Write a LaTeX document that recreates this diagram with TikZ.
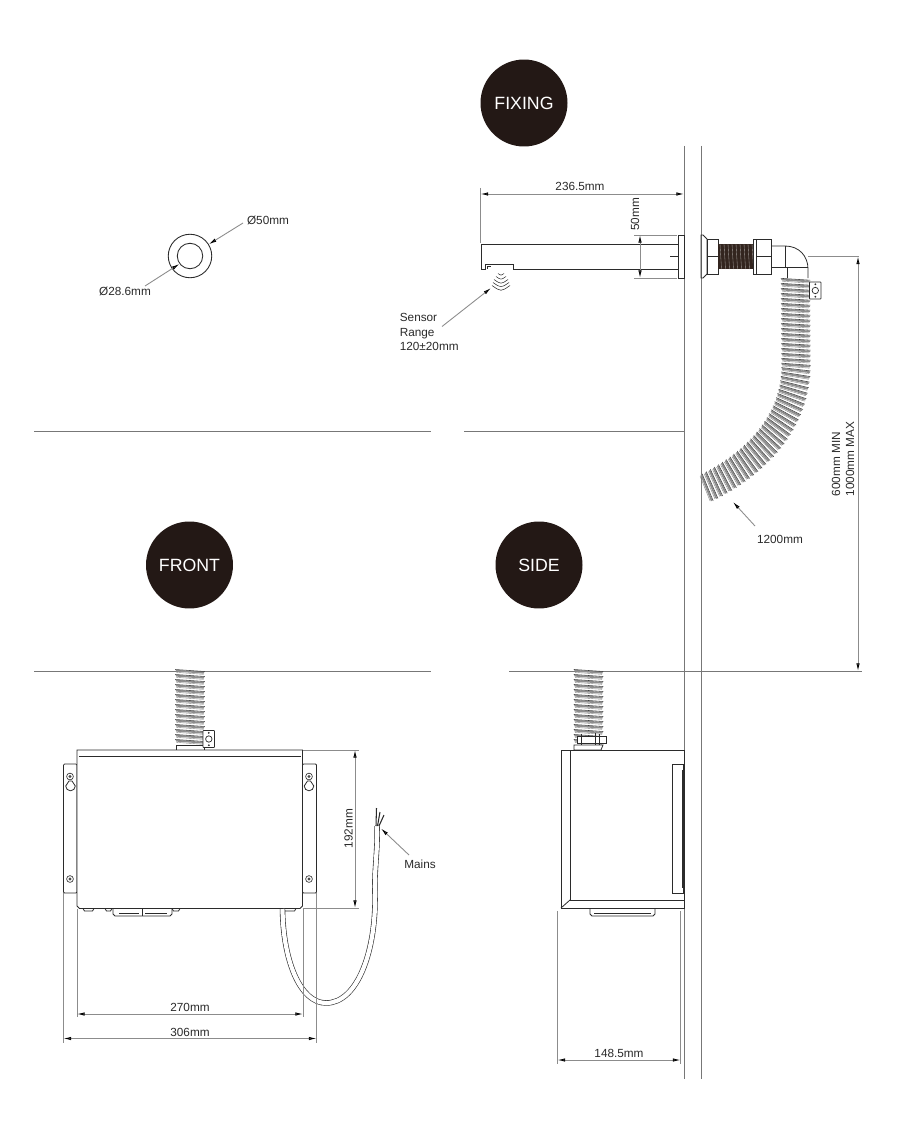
\documentclass[tikz,border=0pt]{standalone}
\usepackage{fontspec}
\setmainfont{Liberation Sans}
\usepackage{xcolor}
\usetikzlibrary{arrows.meta,decorations.markings}
\definecolor{inkdark}{HTML}{2B2B2B}
\definecolor{dimgrey}{HTML}{8C8C8C}
\definecolor{ribgrey}{HTML}{8E8E8E}
\definecolor{badgeblack}{HTML}{231815}
\definecolor{threadbrown}{HTML}{33251F}
\tikzset{
	part/.style={draw=inkdark,line width=0.45pt},
	dimline/.style={color=dimgrey,line width=0.5pt,{Latex[length=4.4pt,width=2pt,color=black]}-{Latex[length=4.4pt,width=2pt,color=black]}},
	leader/.style={color=dimgrey,line width=0.5pt,-{Latex[length=4.4pt,width=2pt,color=black]}},
	extline/.style={color=dimgrey,line width=0.5pt},
	wall/.style={color=dimgrey!85!black,line width=0.55pt},
	dimtext/.style={font=\fontsize{6.7}{8}\selectfont,text=inkdark,inner sep=0pt},
	badge/.style={circle,fill=badgeblack,minimum size=1.74cm,inner sep=0pt,text=white,font=\fontsize{10.1}{12}\selectfont},
	hose/.style={postaction={decorate},decoration={markings,
		mark=between positions 0.01 and 1 step 0.1cm with {
			\draw[ribgrey,line width=1pt,line cap=round] (-0.02cm,-0.27cm) -- (0.02cm,0.27cm);
			\draw[inkdark!90,line width=0.32pt,line cap=round] (-0.045cm,-0.29cm) -- (-0.005cm,0.29cm);
			\draw[inkdark!60,line width=0.22pt] (0.012cm,-0.27cm) -- (0.052cm,0.27cm);
		}}},
	screw/.pic={
		\draw[inkdark,line width=0.35pt] (0,0) circle[radius=3.4];
		\fill[inkdark!85] (0,0) circle[radius=1.7];
	},
	hoseclip/.pic={
		\draw[inkdark,line width=0.4pt,fill=white,rounded corners=0.4pt] (0,-8.5) rectangle (11.5,8.5);
		\draw[inkdark,line width=0.4pt] (5.8,0) circle[radius=3.2];
		\fill[inkdark] (5.8,-6.2) circle[radius=1] (5.8,6.2) circle[radius=1];
	}
}
\begin{document}
\begin{tikzpicture}[x=0.02cm,y=-0.02cm]
		\useasboundingbox[fill=white] (0,0) rectangle (900,1125);
		%
		% section badges
		\node[badge] (fixing) at (524,103) {FIXING};
		\node[badge] (front) at (189.5,565) {FRONT};
		\node[badge] (side) at (539,565) {SIDE};
		%
		% section rules and wall
		\coordinate (R1a) at (34,431.5);
		\coordinate (R1b) at (431,431.5);
		\coordinate (R1c) at (464,431.5);
		\coordinate (R1d) at (684,431.5);
		\coordinate (R2a) at (34,671);
		\coordinate (R2b) at (431,671);
		\coordinate (R2c) at (509,671);
		\coordinate (R2d) at (862,671);
		\coordinate (W1a) at (684,146);
		\coordinate (W1b) at (684,1079);
		\coordinate (W2a) at (701,146);
		\coordinate (W2b) at (701,1079);
		\path[wall]
		(R1a) edge (R1b)
		(R1c) edge (R1d)
		(R2a) edge (R2b)
		(R2c) edge (R2d)
		(W1a) edge (W1b)
		(W2a) edge (W2b);
		%
		% ring
		\node[draw=inkdark,line width=0.5pt,circle,minimum size=0.87cm,inner sep=0pt] (ringout) at (190,256) {};
		\node[draw=inkdark,line width=0.5pt,circle,minimum size=0.51cm,inner sep=0pt] (ringin) at (190,256) {};
		\node[dimtext] (d50) at (268,220.5) {Ø50mm};
		\node[dimtext] (d286) at (125,291.5) {Ø28.6mm};
		\coordinate (d50a) at (243,223);
		\coordinate (d286a) at (145,286);
		\path[leader]
		(d50a) edge (ringout.32)
		(d286a) edge (ringin.217);
		%
		% spout
		\draw[part] (678,244) -- (481,244) -- (481,269) -- (485,269) -- (485,264) -- (513,264) -- (513,269) -- (678,269);
		\draw[part] (487,269) -- (487,266) -- (491,266);
		\draw[part] (678,235) rectangle (684,278);
		\draw[part] (670,256.5) -- (678,256.5);
		\foreach \y/\w in {273.5/3,276.5/5,279.5/7,282.5/8,285.5/9}
			\draw[inkdark,line width=0.3pt] (501-\w,\y) .. controls (501,\y+0.7*\w) .. (501+\w,\y);
		\coordinate (S0) at (480.5,188);
		\coordinate (S1) at (480.5,243);
		\coordinate (D1a) at (480.5,194);
		\coordinate (D1b) at (684,194);
		\coordinate (D2a) at (640,235);
		\coordinate (D2b) at (640,278);
		\coordinate (E1a) at (634,235);
		\coordinate (E1b) at (677,235);
		\coordinate (E2a) at (634,278);
		\coordinate (E2b) at (677,278);
		\coordinate (sensa) at (442,326.5);
		\coordinate (senstip) at (491,288);
		\path[extline]
		(S0) edge (S1)
		(E1a) edge (E1b)
		(E2a) edge (E2b);
		\path[dimline]
		(D1a) edge (D1b)
		(D2a) edge (D2b);
		\path[leader] (sensa) edge (senstip);
		\node[dimtext] (d2365) at (580,186) {236.5mm};
		\node[dimtext,rotate=90] (d50v) at (635,214.5) {50mm};
		\node[dimtext,align=left,anchor=west,text width=1.5cm] (sensor) at (399.5,332) {Sensor\\Range\\120±20mm};
		%
		% through wall fitting
		\draw[part] (701,235) -- (703,235) -- (707,239) -- (707,274) -- (703,278) -- (701,278) -- cycle;
		\draw[part] (707,239) rectangle (718,274);
		\draw[part] (707,256.5) -- (718,256.5);
		\fill[threadbrown] (718,244) rectangle (753,269);
		\foreach \x in {720,724,...,752}
			\draw[white!55!threadbrown,line width=0.2pt] (\x,244) -- (\x+1.5,269);
		\draw[part] (753,239) rectangle (771,274);
		\draw[part] (756,239) -- (756,274);
		\draw[part] (756,256.5) -- (771,256.5);
		\draw[part] (771,246) -- (785,246) .. controls (799,246) and (808,256) .. (808,269) -- (808,278);
		\draw[part] (771,267) -- (787,267) -- (787,278);
		\draw[part] (785,246) -- (785,267);
		\draw[part] (787,267) -- (808,267);
		%
		% hose to the box
		\path[hose] (795.5,278) -- (796,365) .. controls (796,430) and (745,470) .. (702,490);
		\pic (clipA) at (809.5,290.5) {hoseclip};
		\coordinate (H0) at (808,256.5);
		\coordinate (H1) at (859,256.5);
		\coordinate (H2) at (858,256.5);
		\coordinate (H3) at (858,671);
		\coordinate (hosea) at (755,526);
		\coordinate (hosetip) at (733,502);
		\path[extline] (H0) edge (H1);
		\path[dimline] (H2) edge (H3);
		\path[leader] (hosea) edge (hosetip);
		\node[dimtext] (d1200) at (780,539) {1200mm};
		\node[dimtext,rotate=90,align=left] (dminmax) at (843,459) {600mm MIN\\1000mm MAX};
		%
		% front view
		\path[hose] (190,671) -- (190,746);
		\draw[part,fill=white] (176,745) rectangle (204,750);
		\pic (clipB) at (203,739) {hoseclip};
		\draw[part,fill=white,rounded corners=0.6pt] (63.5,764) rectangle (77,893);
		\draw[part,fill=white,rounded corners=0.6pt] (302.5,764) rectangle (316.5,893);
		\draw[part,fill=white,line width=0.55pt] (77,750) -- (302.5,750) -- (302.5,906) -- (300,908.5) -- (79.5,908.5) -- (77,906) -- cycle;
		\draw[part] (79,756) -- (300.5,756);
		\pic (screwA) at (70,776.5) {screw};
		\pic (screwB) at (70,879) {screw};
		\pic (screwC) at (309,776.5) {screw};
		\pic (screwD) at (309,879) {screw};
		\foreach \x in {70.5,309}
			\draw[part] (\x-1.5,781) -- (\x-4.8,786) arc[start angle=180,end angle=-0,radius=4.8] -- (\x+1.5,781) -- cycle;
		% feet and tray
		\foreach \xa/\xb in {83/94,105/112,172/180,283/296}
			\draw[part] (\xa,908.5) -- (\xa+1.5,911) -- (\xb-1.5,911) -- (\xb,908.5);
		\draw[part] (113,908.5) -- (113,914) -- (115,916) -- (170,916) -- (172,914) -- (172,908.5);
		\draw[part] (142,908.5) -- (142,916);
		\draw[part] (119,913) -- (139,913) (145,913) -- (167,913);
		% cable
		\draw[inkdark,line width=0.35pt,double=white,double distance=2.4pt] (282.5,909) .. controls (283,960) and (300,1003) .. (326,1003) .. controls (358,1003) and (376,950) .. (375,895) .. controls (374,870) and (378,850) .. (377,826);
		\draw[inkdark,line width=0.6pt] (376,826) -- (376.5,808) (377.5,826) -- (380,812) (379,826) -- (384,815);
		\coordinate (mainsa) at (409,855);
		\coordinate (mainstip) at (381,828.5);
		\path[leader] (mainsa) edge (mainstip);
		\node[dimtext] (mains) at (420,864) {Mains};
		%
		\coordinate (F1) at (303,750);
		\coordinate (F2) at (359,750);
		\coordinate (F3) at (303,908);
		\coordinate (F4) at (359,908);
		\coordinate (F5) at (355,750);
		\coordinate (F6) at (355,908);
		\coordinate (G1) at (77,909);
		\coordinate (G2) at (77,1017);
		\coordinate (G3) at (303,909);
		\coordinate (G4) at (303,1017);
		\coordinate (G5) at (63.5,893);
		\coordinate (G6) at (63.5,1043);
		\coordinate (G7) at (316.5,893);
		\coordinate (G8) at (316.5,1043);
		\coordinate (G9) at (77,1014);
		\coordinate (G10) at (303,1014);
		\coordinate (G11) at (63.5,1038.5);
		\coordinate (G12) at (316.5,1038.5);
		\path[extline]
		(F1) edge (F2)
		(F3) edge (F4)
		(G1) edge (G2)
		(G3) edge (G4)
		(G5) edge (G6)
		(G7) edge (G8);
		\path[dimline]
		(F5) edge (F6)
		(G9) edge (G10)
		(G11) edge (G12);
		\node[dimtext,rotate=90] (d192) at (348.5,828.5) {192mm};
		\node[dimtext] (d270) at (190,1007) {270mm};
		\node[dimtext] (d306) at (190,1032) {306mm};
		%
		% side view
		\path[hose] (588.5,671) -- (588.5,745);
		\draw[part,fill=white] (574,745) -- (603,745) -- (601,750) -- (574,750) -- cycle;
		\draw[part,fill=white] (577,736.5) rectangle (606,743);
		\draw[part] (581,734) -- (581,745) (595,733) -- (595,745) (599,734) -- (599,745);
		\draw[part,line width=0.55pt] (561,750) -- (684,750) -- (684,908) -- (561,908) -- cycle;
		\draw[part] (570,750) -- (570,900) -- (684,900);
		\draw[part] (561,908) -- (570,900);
		\draw[part] (672,764) rectangle (683,893);
		\draw[inkdark,line width=0.9pt] (683,770) -- (683,888);
		\draw[part] (590,908) -- (590,914) -- (592,916) -- (653,916) -- (655,914) -- (655,908);
		\draw[part] (594,913) -- (651,913);
		\coordinate (K1) at (557.5,911);
		\coordinate (K2) at (557.5,1064);
		\coordinate (K3) at (680.5,911);
		\coordinate (K4) at (680.5,1064);
		\coordinate (K5) at (557.5,1060);
		\coordinate (K6) at (680.5,1060);
		\path[extline]
		(K1) edge (K2)
		(K3) edge (K4);
		\path[dimline] (K5) edge (K6);
		\node[dimtext] (d1485) at (619,1053) {148.5mm};
\end{tikzpicture}
\end{document}
